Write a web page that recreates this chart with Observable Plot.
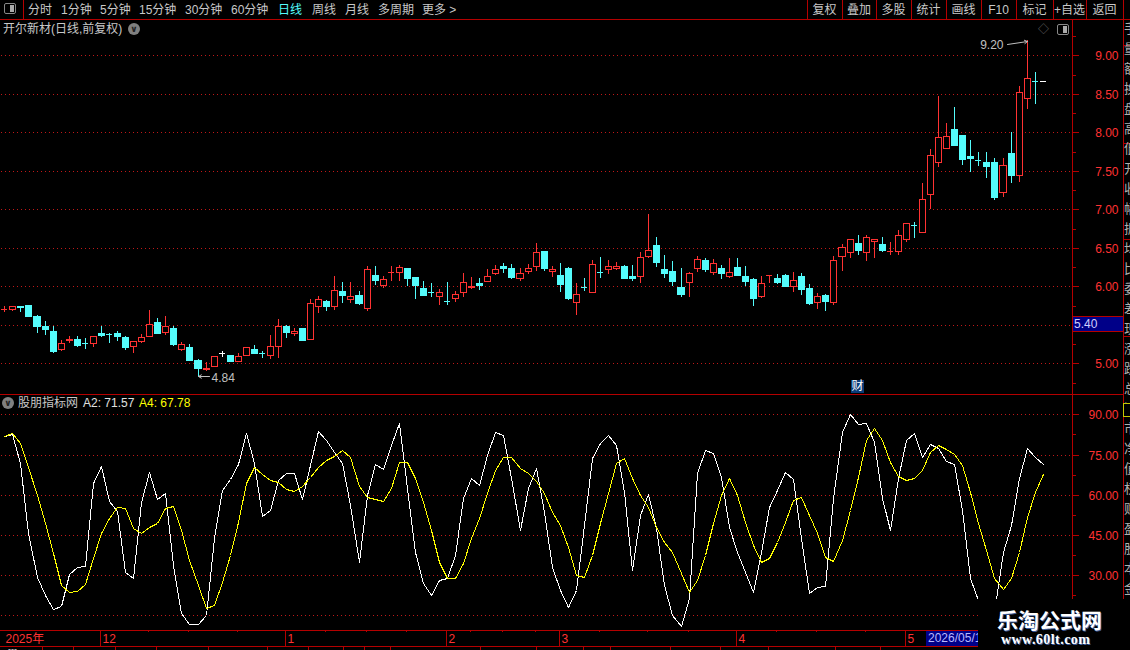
<!DOCTYPE html>
<html><head><meta charset="utf-8">
<script src="https://cdn.jsdelivr.net/npm/d3@7"></script>
<script src="https://cdn.jsdelivr.net/npm/@observablehq/plot@0.6"></script>
<style>
html,body{margin:0;padding:0;background:#000;overflow:hidden}
#stage{position:relative;width:1130px;height:650px;background:#000;overflow:hidden;font:12px "Liberation Sans","Noto Sans CJK SC",sans-serif;color:#c8c8c8}
#stage svg{position:absolute;left:0;display:block}
.t{position:absolute;white-space:nowrap;line-height:14px}
.l{position:absolute;background:#b40000}
</style></head><body><div id="stage"></div>
<script>
const opens=[5.70,5.70,5.75,5.76,5.62,5.49,5.42,5.19,5.30,5.32,5.27,5.26,5.40,5.39,5.40,5.34,5.23,5.29,5.36,5.54,5.41,5.46,5.19,5.21,5.04,4.92,4.96,5.13,5.11,5.03,5.11,5.19,5.15,5.11,5.23,5.49,5.40,5.46,5.32,5.75,5.81,5.75,5.94,5.84,5.89,5.72,6.15,6.02,6.18,6.19,6.24,6.12,5.98,5.94,5.87,5.82,5.85,5.92,5.99,6.04,6.07,6.17,6.26,6.24,6.11,6.20,6.26,6.46,6.20,6.15,6.24,5.79,6.00,5.93,6.20,6.22,6.24,6.26,6.13,6.13,6.40,6.54,6.23,6.20,5.99,6.06,6.24,6.34,6.18,6.24,6.14,6.25,6.13,6.10,5.87,6.14,6.11,6.15,6.00,6.13,5.98,5.79,5.89,5.80,6.40,6.45,6.56,6.45,6.59,6.55,6.45,6.46,6.61,6.80,6.71,7.20,7.61,7.79,8.04,7.97,7.69,7.65,7.61,7.61,7.22,7.73,7.44,8.44,8.68,8.66];
const highs=[5.74,5.75,5.75,5.76,5.63,5.55,5.49,5.30,5.36,5.36,5.33,5.36,5.49,5.40,5.42,5.36,5.29,5.38,5.69,5.59,5.62,5.49,5.28,5.25,5.06,5.02,5.10,5.16,5.11,5.13,5.21,5.24,5.16,5.37,5.58,5.50,5.46,5.46,5.84,5.87,5.82,6.13,6.06,6.06,5.94,6.26,6.26,6.13,6.26,6.28,6.24,6.12,6.07,6.04,5.97,6.06,5.94,6.17,6.12,6.11,6.22,6.28,6.30,6.29,6.24,6.29,6.56,6.46,6.26,6.30,6.25,6.04,6.11,6.34,6.38,6.34,6.32,6.28,6.28,6.45,6.94,6.64,6.41,6.33,6.24,6.19,6.39,6.37,6.36,6.28,6.37,6.37,6.26,6.11,6.13,6.15,6.16,6.16,6.19,6.17,6.03,5.91,5.90,6.39,6.55,6.62,6.67,6.67,6.62,6.64,6.58,6.73,6.82,6.83,7.34,7.78,8.47,8.12,8.33,7.97,7.90,7.74,7.74,7.67,7.67,8.00,8.60,9.20,8.78,8.66];
const lows=[5.66,5.68,5.67,5.62,5.39,5.37,5.14,5.16,5.26,5.21,5.19,5.21,5.34,5.26,5.29,5.17,5.13,5.27,5.35,5.39,5.37,5.23,5.16,5.03,4.84,4.90,4.96,5.08,5.03,5.03,5.11,5.13,5.07,5.06,5.07,5.33,5.36,5.29,5.32,5.65,5.68,5.69,5.78,5.78,5.76,5.68,6.02,5.98,6.07,6.07,6.00,5.84,5.87,5.86,5.76,5.76,5.80,5.86,5.97,5.95,6.07,6.15,6.17,6.10,6.07,6.16,6.20,6.20,6.12,5.93,5.82,5.63,5.94,5.93,6.11,6.16,6.21,6.10,6.07,6.04,6.37,6.25,6.11,6.00,5.86,5.86,6.19,6.19,6.15,6.10,6.11,6.15,6.00,5.74,5.85,6.04,6.03,5.99,5.93,5.89,5.76,5.71,5.68,5.76,6.20,6.37,6.41,6.33,6.37,6.45,6.41,6.41,6.58,6.63,6.69,7.00,7.55,7.79,7.84,7.58,7.48,7.56,7.41,7.12,7.16,7.34,7.36,8.30,8.37,8.66];
const closes=[5.71,5.75,5.73,5.62,5.48,5.45,5.16,5.27,5.32,5.24,5.26,5.36,5.37,5.38,5.36,5.21,5.29,5.34,5.51,5.39,5.49,5.25,5.25,5.04,4.94,4.94,5.10,5.13,5.03,5.10,5.21,5.14,5.14,5.23,5.49,5.41,5.42,5.30,5.78,5.84,5.75,5.95,5.89,5.87,5.78,6.23,6.08,6.10,6.19,6.25,6.11,6.02,5.89,5.93,5.93,5.81,5.90,6.05,6.01,6.02,6.14,6.23,6.24,6.12,6.17,6.24,6.45,6.24,6.22,6.03,5.85,5.90,5.99,6.29,6.19,6.27,6.27,6.11,6.11,6.38,6.47,6.32,6.17,6.07,5.90,6.17,6.36,6.23,6.30,6.17,6.19,6.15,6.07,5.85,6.04,6.15,6.06,6.00,6.08,5.97,5.78,5.88,5.81,6.34,6.51,6.61,6.47,6.64,6.61,6.47,6.46,6.66,6.82,6.79,7.14,7.70,7.94,7.95,7.84,7.65,7.67,7.64,7.56,7.16,7.58,7.45,8.52,8.71,8.67,8.66];
const a2=[81.8,82.8,71.7,45.6,29.2,22.6,17.2,18.5,30.3,33.0,33.4,64.2,70.8,57.6,53.9,31.0,28.8,57.4,68.3,58.4,60.5,33.8,15.7,11.6,11.6,15.1,43.7,61.8,65.7,71.3,82.9,71.7,52.0,54.3,65.5,68.1,68.1,58.4,71.1,83.8,80.4,76.1,71.7,56.2,35.0,59.9,71.3,69.6,78.5,86.6,62.4,38.7,26.9,22.6,28.2,29.0,37.5,58.6,66.1,63.6,74.8,83.3,82.3,66.1,46.8,62.4,70.1,53.7,33.1,24.4,18.2,24.4,48.7,73.6,79.2,82.3,78.5,61.1,31.9,52.4,60.1,47.4,26.3,15.1,11.0,21.3,68.0,76.7,75.4,66.7,48.1,38.7,31.3,23.6,38.7,55.5,61.8,68.6,65.9,43.7,23.4,25.4,25.9,58.6,83.5,90.0,86.3,86.6,79.8,58.6,46.8,66.1,80.4,82.9,74.2,78.8,77.3,72.6,71.3,54.3,28.8,20.7,11.4,16.4,38.7,48.7,66.1,77.3,74.2,71.57];
const a4=[82.0,82.9,79.2,70.5,59.9,49.3,38.1,26.3,23.6,24.2,26.6,36.3,45.6,51.2,55.5,55.2,47.7,45.6,48.1,49.3,55.2,55.7,46.8,35.6,26.3,17.8,18.8,27.5,37.5,49.9,64.2,70.3,67.6,65.5,64.6,62.0,61.4,63.4,66.7,70.5,72.9,74.6,76.6,74.2,63.4,59.3,58.4,57.6,62.4,72.3,72.3,66.1,57.4,46.8,35.0,28.8,28.8,34.4,43.7,51.2,60.5,69.2,73.9,73.9,70.1,68.0,65.1,60.5,53.7,48.7,40.6,30.0,29.4,37.5,49.3,60.5,71.7,73.8,66.1,59.9,55.5,48.1,42.5,38.7,30.7,23.8,28.2,37.5,49.3,59.9,66.4,59.9,49.9,41.2,35.0,36.5,42.5,49.9,58.0,59.3,52.4,45.6,36.9,35.4,43.1,54.3,66.7,80.4,85.0,80.4,72.3,67.1,65.5,66.1,69.2,76.1,78.5,77.1,75.1,71.1,61.1,49.3,39.4,28.8,24.8,28.8,38.7,51.8,61.1,67.78];
const priceTicks=[9,8.5,8,7.5,7,6.5,6,5.5,5];
const priceMinor=[9.25,8.75,8.25,7.75,7.25,6.75,6.25,5.75,5.25,4.75];
const indGrid=[90,75,60,45,30,15];
const indTicks=[90,75,60,45,30];
const indMinor=[82.5,67.5,52.5,37.5,22.5];
const monthIdx=[12,35,55,69,91,112];
const monthLabels=["12","1","2","3","4","5"];
const weekIdx=[18,23,29,40,45,50,58,62,66,74,80,85,96,101,107];
const toolLeft=["分时","1分钟","5分钟","15分钟","30分钟","60分钟","日线","周线","月线","多周期","更多 >"];
const toolLeftX=[28,61,100,139,185,231,278,312,345,378,422];
const toolRight=["复权","叠加","多股","统计","画线","F10","标记","+自选","返回"];
const toolRightEdges=[807,842,876,911,946,981,1016,1053,1086,1123];

const RED="#ff3232",CYAN="#54fcfc",GRID="#c01818",AXIS="#b40000";
const candles=opens.map((o,i)=>({i,o,h:highs[i],l:lows[i],c:closes[i],
  col:closes[i]>o?RED:closes[i]<o?CYAN:"#ffffff",up:closes[i]>o}));
const xScale={type:"linear",domain:[0,129],range:[4.3,1042.75],round:true};
const bw=0.3727;
const crisp={shapeRendering:"crispEdges"};
const txtFont={fontFamily:"Liberation Sans",fontSize:12};
const gridStyle={stroke:GRID,strokeDasharray:"1,3",strokeDashoffset:3.5,...crisp};
const stage=document.getElementById("stage");

const price=Plot.plot({width:1130,height:395,marginLeft:0,marginRight:58,marginTop:0,marginBottom:0,
  style:{background:"#000",top:"0px"},x:{...xScale,axis:null},y:{type:"linear",domain:[9,5],range:[55.3,363.3],round:true},
  marks:[
    Plot.ruleY(priceTicks,{x1:-0.53,x2:133.1,...gridStyle}),
    Plot.axisY(priceMinor,{anchor:"right",tickSize:3,tickFormat:()=>"",stroke:AXIS,...crisp}),
    Plot.axisY(priceTicks,{anchor:"right",tickSize:6,stroke:AXIS,tickFormat:()=>"",...crisp}),
    Plot.text(priceTicks,{y:d=>d,text:d=>d.toFixed(2),frameAnchor:"right",textAnchor:"end",dx:46,dy:1,fill:RED,...txtFont}),
    Plot.ruleX(candles.filter(d=>d.h>d.l),{x:"i",y1:"l",y2:"h",stroke:d=>d.col,...crisp}),
    Plot.rect(candles.filter(d=>Math.abs(d.o-d.c)>=0.012),{x1:d=>d.i-bw,x2:d=>d.i+bw,y1:"o",y2:"c",stroke:d=>d.col,fill:d=>d.up?"#000":d.col,...crisp}),
    Plot.ruleY(candles.filter(d=>Math.abs(d.o-d.c)<0.012),{x1:d=>d.i-bw,x2:d=>d.i+bw,y:"c",stroke:d=>d.col,strokeWidth:1,...crisp}),
    Plot.text([{i:24,p:4.84}],{x:"i",y:"p",text:d=>d.p.toFixed(2),textAnchor:"start",dx:13,dy:2,fill:"#c0c0c0",...txtFont}),
    Plot.arrow([{i:24,p:4.84}],{x1:d=>d.i+1.45,x2:"i",y1:"p",y2:"p",stroke:"#c0c0c0",strokeWidth:1,headLength:5,bend:0}),
    Plot.text([{i:127,p:9.2}],{x:"i",y:"p",text:d=>d.p.toFixed(2),textAnchor:"end",dx:-24,dy:5,fill:"#c0c0c0",...txtFont}),
    Plot.arrow([{i:127,p:9.2}],{x1:d=>d.i-2.4,x2:"i",y1:d=>d.p-0.05,y2:d=>d.p-0.01,stroke:"#c0c0c0",strokeWidth:1,headLength:5,bend:0})
  ]});
stage.append(price);

const rows=a2.map((v,i)=>({i,a2:v,a4:a4[i]}));
const ind=Plot.plot({width:1130,height:235,marginLeft:0,marginRight:58,marginTop:0,marginBottom:0,
  style:{background:"#000",top:"395px"},x:{...xScale,axis:null},y:{type:"linear",domain:[90,15],range:[19.3,220.3],round:true},
  marks:[
    Plot.ruleY(indGrid,{x1:-0.53,x2:133.1,...gridStyle}),
    Plot.axisY(indMinor,{anchor:"right",tickSize:3,tickFormat:()=>"",stroke:AXIS,...crisp}),
    Plot.axisY(indTicks,{anchor:"right",tickSize:6,stroke:AXIS,tickFormat:()=>"",...crisp}),
    Plot.text(indTicks,{y:d=>d,text:d=>d.toFixed(2),frameAnchor:"right",textAnchor:"end",dx:46,dy:1,fill:RED,...txtFont}),
    Plot.line(rows,{x:"i",y:"a2",stroke:"#ffffff",strokeWidth:1,...crisp}),
    Plot.line(rows,{x:"i",y:"a4",stroke:"#ffff00",strokeWidth:1,...crisp})
  ]});
stage.append(ind);

const months=monthIdx.map((i,k)=>({i,label:monthLabels[k]}));
const timeline=Plot.plot({width:1130,height:16,marginLeft:0,marginRight:58,marginTop:0,marginBottom:0,
  style:{background:"#000",top:"630px"},x:{...xScale,axis:null},y:{type:"linear",domain:[0,8],range:[0,16],axis:null},
  marks:[
    Plot.ruleX(months,{x:"i",y1:0,y2:8,stroke:AXIS,dx:-1,...crisp}),
    Plot.ruleX(weekIdx,{y1:0,y2:1,stroke:AXIS,dx:-1,...crisp}),
    Plot.text(months,{x:"i",y:4,text:"label",textAnchor:"start",dx:1,dy:0.5,fill:RED,...txtFont}),
    Plot.text([{i:0,label:"2025年"}],{x:"i",y:4,text:"label",textAnchor:"start",dx:1,dy:0.5,fill:RED,fontFamily:"Liberation Sans,Noto Sans CJK SC",fontSize:12})
  ]});
stage.append(timeline);

function L(x,y,w,h,c){const d=document.createElement("div");d.className="l";d.style.cssText=`left:${x}px;top:${y}px;width:${w}px;height:${h}px`+(c?`;background:${c}`:"");stage.append(d);return d}
function T(s,x,y,c,extra){const d=document.createElement("div");d.className="t";d.textContent=s;d.style.cssText=`left:${x}px;top:${y}px;color:${c||"#c8c8c8"};`+(extra||"");stage.append(d);return d}

// frame lines
L(0,19,1130,1);L(0,394,1123,1);L(0,630,1072,1);L(0,646,1123,1);
L(1072,19,1,611);L(1123,0,1,650);L(23,0,1,19);
toolRightEdges.forEach(x=>L(x,0,1,19));
[394,630].forEach(y=>L(1072,y,51,1));
L(1072,316,51,1);L(1072,331,51,1);
[45,143,239,336].forEach(y=>L(1123,y,7,1));

// toolbar
const icon=L(4,3,12,11,"transparent");icon.style.border="1px solid #888";icon.style.borderRadius="2px";icon.style.boxSizing="border-box";
L(10,5,4,7,"#aaa");
toolLeft.forEach((s,i)=>T(s,toolLeftX[i],3,s==="日线"?CYAN:"#c8c8c8"));
toolRight.forEach((s,i)=>{const a=toolRightEdges[i],b=toolRightEdges[i+1];T(s,a,3,"#c8c8c8",`width:${b-a}px;text-align:center`)});

// titles
T("开尔新材(日线,前复权)",3,22,"#c8c8c8");
function chev(cx,cy){const d=document.createElement("div");d.className="t";d.style.cssText=`left:${cx-6}px;top:${cy-6}px;width:12px;height:12px;border-radius:6px;background:#808080;color:#222;font:bold 9px/12px "DejaVu Sans";text-align:center`;d.textContent="∨";stage.append(d)}
chev(134,29);chev(8,403);
T("◇",1038,22,"#707070","font-size:11px");
const ic2=L(1057,24,12,11,"transparent");ic2.style.border="1px solid #888";ic2.style.borderRadius="2px";ic2.style.boxSizing="border-box";L(1063,26,4,7,"#aaa");
T("股朋指标网",18,396,"#c8c8c8");
T("A2: 71.57",83,396,"#e0e0e0");
T("A4: 67.78",139,396,"#ffff00");
T("财",851,380,"#fff","background:#0a3c78;width:13px;height:13px;line-height:13px;text-align:center");

// last price box
const lp=document.createElement("div");lp.className="t";lp.style.cssText="left:1073px;top:317px;width:50px;height:14px;background:#000088;color:#d0d0ff;padding-left:1px;box-sizing:border-box";lp.textContent="5.40";stage.append(lp);

// date box
T("2026/05/1",928,631,"#b8b8ff","background:#000088;width:52px;height:15px;overflow:hidden;left:926px;padding-left:2px;box-sizing:border-box");

// clipped right strip
const strip=document.createElement("div");strip.style.cssText="position:absolute;left:1124px;top:0;width:6px;height:650px;overflow:hidden;color:#b0b0b0";
["手","量","额","换","盘","高","低","开","收","幅","振","均","比","委","差","现","涨","跌","总","流","市","净","值","权","财","盈","股","本","金","主"].forEach((s,i)=>{const d=document.createElement("div");d.className="t";d.style.cssText=`left:0;top:${22+i*20}px;font-size:13px`;d.textContent=s;strip.append(d)});
stage.append(strip);
L(1123,403,7,12,"#000").style.border="1px solid #c8c800";

// bottom stubs
[42,73,115,156,208,267,308,343,364,390,480,536,583,610,670,720,768,835,880].forEach(x=>L(x,646,1,4));
T("---",8,645,"#ddd","font-size:9px;line-height:9px");

// watermark
const wm=document.createElement("div");wm.style.cssText="position:absolute;left:978px;top:599px;width:152px;height:51px;background:#000";stage.append(wm);
T("乐淘公式网",997,607,"#fff",'font:bold 21px/24px "Noto Sans CJK SC";text-shadow:1px 1px 0 #3a5a9a');
T("www.60lt.com",1001,632,"#fff",'font:bold 14px/16px "Liberation Serif";text-shadow:1px 1px 0 #3a5a9a;letter-spacing:0.45px');
</script></body></html>
